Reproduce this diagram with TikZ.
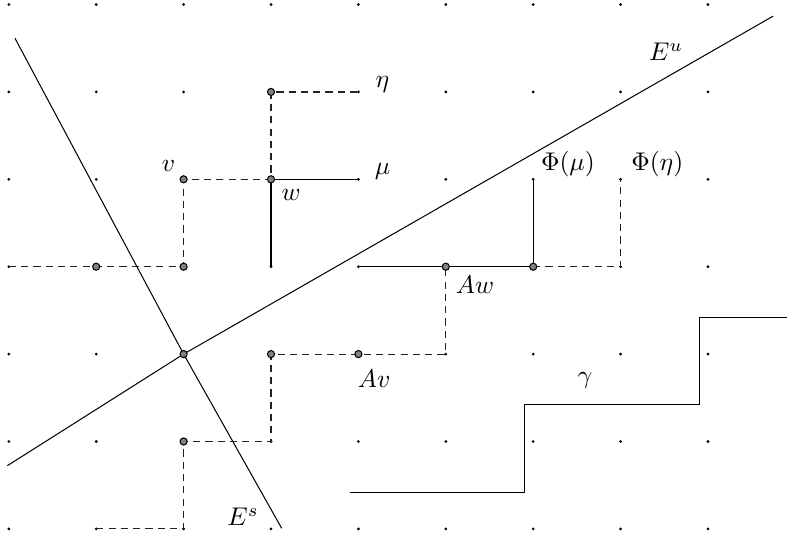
\documentclass[tikz,border=0pt]{standalone}
\usepackage{amsmath,amssymb}
\usepackage{xcolor}
\definecolor{hopgray}{RGB}{35, 35, 35}
\definecolor{sitegray}{RGB}{128, 128, 128}
\usepackage{tikz}
\usetikzlibrary{calc}

\tikzset{
    hop/.style={hopgray, line width=0.45pt, dash pattern=on 2.8pt off 2pt},
    site/.style={fill=sitegray, draw=black, line width=0.4pt}
}

\begin{document}
\begin{tikzpicture}[x=1.2cm, y=1.2cm]
    \useasboundingbox (-2.101,-2.070) rectangle (6.950,4.052);
    \foreach \i in {-2,...,6}
        \foreach \j in {-2,...,4}
            \fill (\i,\j) circle (0.6pt);

    \coordinate (O) at (0,0);
    \coordinate (Eu1) at (-2.017,-1.277);
    \coordinate (Eu2) at (6.747,3.868);
    \coordinate (Es1) at (-1.929,3.613);
    \coordinate (Es2) at (1.122,-1.993);
    \draw (Eu1) -- (O) -- (Eu2);
    \draw (Es1) -- (O) -- (Es2);

    \coordinate (v) at (0,2);
    \coordinate (w) at (1,2);
    \coordinate (eta) at (2,3);
    \coordinate (mu) at (2,2);
    \coordinate (Av) at (2,0);
    \coordinate (Aw) at (3,1);
    \coordinate (Phimu) at (4,1);
    \coordinate (Phieta) at (5,2);

    \draw[hop] (-2,1) -- (0,1) -- (v) -- (w) -- (1,3) -- (eta);
    \draw (w) -- (mu);
    \draw (w) -- (1,1);
    \draw[hop] (-1,-2) -- (0,-2) -- (0,-1) -- (1,-1) -- (1,0) -- (Av) -- (3,0) -- (Aw);
    \draw (2,1) -- (Aw) -- (Phimu) -- (4,2);
    \draw[hop] (Phimu) -- (5,1) -- (Phieta);
    \draw (1.9,-1.58) -- ++(2,0) -- ++(0,1) -- ++(2,0) -- ++(0,1) -- ++(1,0);

    \foreach \p in {(-1,1), (0,1), (v), (w), (1,3), (O), (0,-1), (1,0), (Av), (Aw), (Phimu)}
        \filldraw[site] \p circle (1.4pt);

    \node (lv) at (-0.173,2.152) {$v$};
    \node (lw) at (1.229,1.82) {$w$};
    \node (leta) at (2.276,3.09) {$\eta$};
    \node (lmu) at (2.276,2.095) {$\mu$};
    \node (lPhimu) at (4.398,2.17) {$\Phi(\mu)$};
    \node (lPhieta) at (5.42,2.17) {$\Phi(\eta)$};
    \node (lAw) at (3.335,0.79) {$Aw$};
    \node (lAv) at (2.18,-0.285) {$Av$};
    \node (lgamma) at (4.593,-0.306) {$\gamma$};
    \node (lEu) at (5.52,3.46) {$E^u$};
    \node (lEs) at (0.68,-1.86) {$E^s$};
\end{tikzpicture}
\end{document}
